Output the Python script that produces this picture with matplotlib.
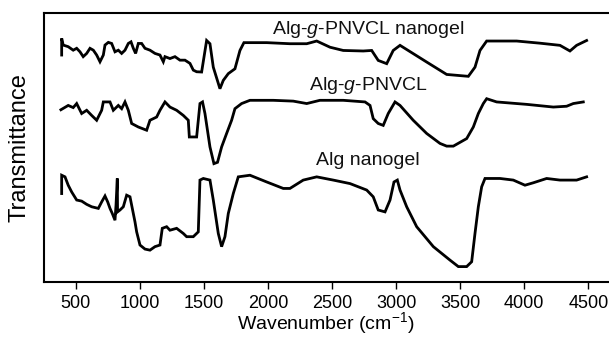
import matplotlib
matplotlib.use("Agg")
import matplotlib.pyplot as plt

plt.rcParams["font.family"] = ["Liberation Sans", "DejaVu Sans"]
plt.rcParams["mathtext.fontset"] = "custom"
plt.rcParams["mathtext.rm"] = "Liberation Sans"
plt.rcParams["mathtext.it"] = "Liberation Sans:italic"

# Alg-g-PNVCL nanogel (top trace), wavenumber in cm-1, transmittance in a.u. (offset)
nanogel_pnvcl_wn = [391, 391, 403, 442, 481, 508, 534, 559, 586, 612, 638, 664, 690, 716, 729,
                    755, 781, 807, 833, 859, 885, 911, 932, 950, 968, 989, 1015, 1041, 1080,
                    1119, 1158, 1184, 1197, 1236, 1275, 1314, 1353, 1392, 1418, 1444, 1483,
                    1522, 1548, 1574, 1626, 1652, 1691, 1743, 1782, 1813, 1991, 2172, 2303,
                    2381, 2485, 2588, 2744, 2810, 2861, 2927, 2978, 3031, 3239, 3395, 3564,
                    3616, 3655, 3707, 3941, 4123, 4279, 4357, 4409, 4487]
nanogel_pnvcl_t = [84.4, 90.6, 88.1, 87.5, 86.2, 86.9, 85.6, 83.8, 85.0, 86.9, 86.2, 84.4, 81.9,
                   84.4, 88.1, 89.1, 88.7, 85.6, 86.2, 85.0, 86.2, 88.7, 89.3, 86.9, 85.0, 88.7,
                   88.7, 86.9, 86.2, 85.0, 84.4, 81.9, 83.8, 83.1, 83.8, 82.5, 82.5, 81.3, 78.8,
                   78.2, 78.1, 89.8, 88.6, 79.9, 71.9, 75.0, 77.5, 79.3, 86.1, 89.0, 89.0, 88.6,
                   88.6, 89.6, 87.3, 86.1, 85.9, 86.1, 82.4, 81.2, 86.1, 88.0, 81.8, 77.2, 76.5,
                   79.9, 86.1, 89.6, 89.6, 88.8, 88.0, 85.9, 88.0, 89.8]

# Alg-g-PNVCL (middle trace)
pnvcl_wn = [385, 442, 481, 508, 547, 586, 625, 664, 703, 716, 768, 794, 833, 859, 885, 911, 937,
            989, 1054, 1080, 1132, 1158, 1197, 1236, 1288, 1340, 1379, 1387, 1444, 1470, 1490,
            1509, 1548, 1579, 1607, 1639, 1678, 1717, 1743, 1795, 1860, 2042, 2198, 2303, 2406,
            2588, 2758, 2797, 2822, 2861, 2900, 2939, 2992, 3031, 3134, 3239, 3343, 3395, 3447,
            3551, 3603, 3642, 3681, 3707, 3785, 4019, 4227, 4331, 4383, 4461]
pnvcl_t = [64.1, 65.7, 64.9, 66.4, 62.7, 63.9, 62.0, 60.2, 63.9, 67.0, 67.0, 63.9, 65.7, 64.5,
           67.0, 63.9, 59.0, 57.7, 56.5, 60.2, 61.4, 63.9, 67.0, 65.1, 63.9, 62.0, 60.2, 54.0,
           54.0, 66.4, 67.0, 62.7, 50.3, 44.1, 44.6, 50.3, 55.3, 60.2, 64.5, 66.4, 67.6, 67.6,
           67.3, 66.4, 67.6, 67.6, 67.0, 65.7, 60.8, 59.0, 58.3, 62.7, 67.0, 65.7, 60.2, 55.3,
           51.6, 50.6, 50.6, 53.4, 57.7, 62.7, 66.4, 68.2, 67.0, 66.1, 65.1, 65.4, 66.4, 67.0]

# Alg nanogel (bottom trace)
alg_wn = [391, 391, 417, 442, 469, 508, 547, 586, 625, 677, 703, 729, 750, 768, 786, 807, 815,
          825, 827, 846, 872, 898, 924, 942, 963, 976, 1002, 1041, 1080, 1119, 1158, 1176,
          1210, 1236, 1288, 1340, 1366, 1418, 1457, 1470, 1496, 1548, 1574, 1613, 1639, 1665,
          1691, 1730, 1769, 1860, 1991, 2120, 2172, 2276, 2381, 2510, 2641, 2771, 2822, 2861,
          2914, 2953, 2984, 3010, 3031, 3083, 3161, 3291, 3421, 3486, 3551, 3590, 3616, 3642,
          3668, 3694, 3811, 3915, 4006, 4071, 4175, 4279, 4409, 4487]
alg_t = [33.0, 39.8, 39.2, 36.1, 33.6, 30.6, 30.2, 29.0, 28.1, 27.5, 29.9, 32.1, 29.9, 27.5,
         25.6, 23.1, 28.7, 38.6, 26.2, 26.9, 28.1, 32.4, 31.8, 27.5, 22.5, 18.8, 13.9, 12.4,
         12.0, 13.3, 13.9, 20.1, 20.7, 19.4, 20.1, 18.2, 17.0, 17.0, 18.8, 38.0, 38.6, 38.0,
         30.6, 18.2, 13.3, 17.0, 25.6, 33.0, 39.2, 39.8, 37.3, 34.9, 34.9, 38.0, 39.2, 38.0,
         36.7, 34.3, 31.8, 26.9, 26.2, 30.6, 37.3, 38.0, 34.3, 28.1, 20.7, 13.3, 8.3, 5.9,
         5.9, 7.7, 18.2, 28.1, 35.5, 38.6, 38.6, 38.0, 36.1, 37.0, 38.6, 38.0, 38.0, 39.2]

curve_labels = ["Alg-$g$-PNVCL nanogel", "Alg-$g$-PNVCL", "Alg nanogel"]
label_y = [92.3, 71.3, 43.5]
label_x = 2780
xticks = [500, 1000, 1500, 2000, 2500, 3000, 3500, 4000, 4500]

fig = plt.figure(figsize=(6.09, 3.43), dpi=100)
# right spine sits just past the image edge, like the cropped original
ax = fig.add_axes([0.0716, 0.1764, 0.947, 0.7857])

for wn, t in [(nanogel_pnvcl_wn, nanogel_pnvcl_t), (pnvcl_wn, pnvcl_t), (alg_wn, alg_t)]:
    ax.plot(wn, t, color="black", lw=2.0, solid_joinstyle="miter")

for lab, ly in zip(curve_labels, label_y):
    ax.text(label_x, ly, lab, ha="center", va="baseline", fontsize=14, color="#111111")

ax.set_xlim(250, 4750)
ax.set_ylim(0, 100)
ax.set_xticks(xticks)
ax.set_yticks([])
ax.tick_params(axis="x", direction="out", length=5, width=1.0, labelsize=13, pad=4)
for s in ax.spines.values():
    s.set_linewidth(1.5)

fig.text(20 / 609, 1 - 147.5 / 343, "Transmittance", rotation=90, ha="center", va="center",
         fontsize=17)
fig.text(326 / 609, 13.5 / 343, "Wavenumber (cm$^{-1}$)", ha="center", va="baseline",
         fontsize=14)

fig.savefig("out.png", dpi=100)
plt.close()
